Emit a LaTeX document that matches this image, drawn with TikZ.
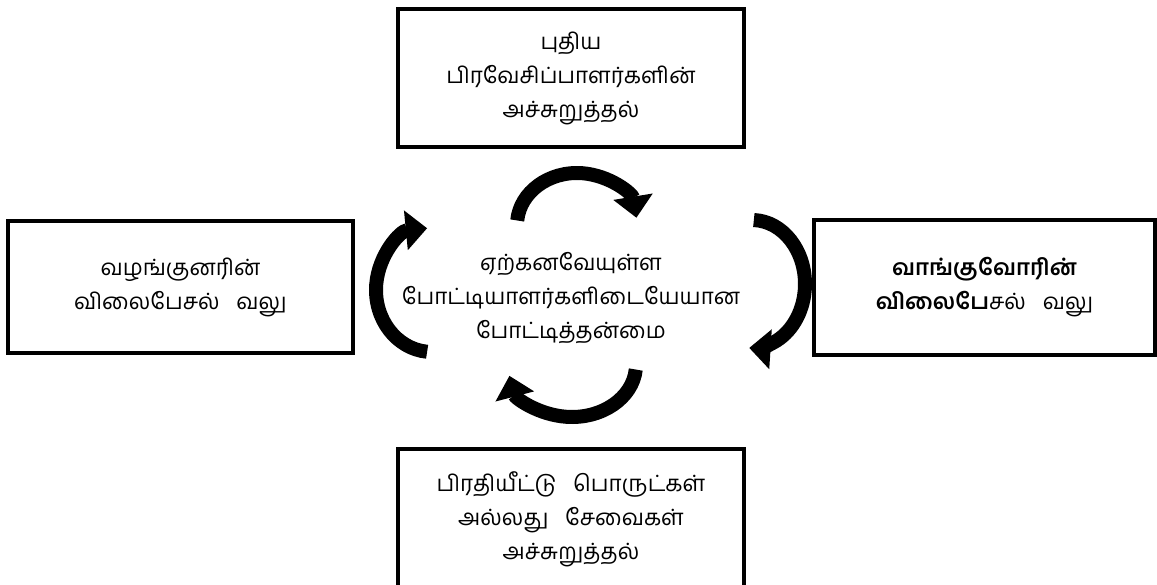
\documentclass[tikz,border=0pt]{standalone}
\usepackage{fontspec}
\newfontfamily\tamilf[Script=Tamil]{Hind Madurai}
\usetikzlibrary{arrows.meta}
\newdimen\pxu \pxu=0.75pt
\newcommand\gapw{\hspace{0.75em}}
\begin{document}
\begin{tikzpicture}[x=0.75pt,y=0.75pt,
  boxnode/.style={draw=black, line width=3.4pt, align=center, inner sep=0pt,
    font=\tamilf\fontsize{16.8}{25.5}\selectfont},
  cyc/.style={line width=10.5pt, line cap=butt,
    -{Triangle[length=16pt,width=29pt]}},
  txt/.style={align=center, inner sep=0pt, font=\tamilf\fontsize{16.8}{25.5}\selectfont}]
\fill[white] (0,0) rectangle (1157,-585);
\useasboundingbox (0,0) rectangle (1157,-585);

\node[boxnode, minimum width=346\pxu, minimum height=138\pxu] (top) at (571,-78)
  {புதிய\\பிரவேசிப்பாளர்களின்\\அச்சுறுத்தல்};
\node[boxnode, minimum width=345\pxu, minimum height=132\pxu] (left) at (180.5,-287)
  {வழங்குனரின்\\விலைபேசல்\gapw வலு};
\node[boxnode, minimum width=341\pxu, minimum height=135\pxu] (right) at (984.5,-287.5)
  {{\bfseries வாங்குவோரின்}\\{\bfseries விலைபே}சல்\gapw வலு};
\node[boxnode, minimum width=346\pxu, minimum height=140\pxu] (bottom) at (571,-519)
  {பிரதியீட்டு\gapw பொருட்கள்\\அல்லது\gapw சேவைகள்\\அச்சுறுத்தல்};
\node[txt] (center) at (571,-298)
  {ஏற்கனவேயுள்ள\\போட்டியாளர்களிடையேயான\\போட்டித்தன்மை};

% cycle arrows (clockwise)
\draw[cyc] (577,-225) ++(175:60 and 52) arc[start angle=175, end angle=8, x radius=60, y radius=52];
\draw[cyc] (752,-284) ++(88:53 and 64) arc[start angle=88, end angle=-93, x radius=53, y radius=64];
\draw[cyc] (572,-365) ++(-5:64 and 52) arc[start angle=-5, end angle=-168, x radius=64, y radius=52];
\draw[cyc] (432,-290) ++(-95:56 and 62) arc[start angle=-95, end angle=-265, x radius=56, y radius=62];
\end{tikzpicture}
\end{document}
